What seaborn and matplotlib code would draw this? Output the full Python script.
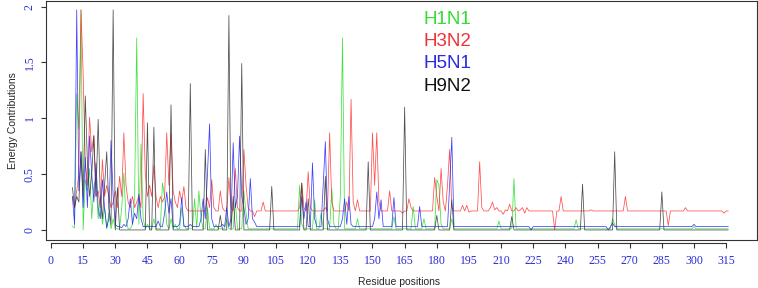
# %%
# ===== Loading Libraries =====
import pandas as pd
import numpy as np
import matplotlib.pyplot as plt
import seaborn as sns

sns.set_style('white')
plt.rcParams['font.family'] = ['Liberation Sans', 'DejaVu Sans']


# %%
# ===== Data =====
residues = list(range(10, 317))
subtypes = ['H1N1', 'H3N2', 'H5N1', 'H9N2']
line_colors = ['#22dd22', '#ff3030', '#2020ff', '#303030']
x_ticks = list(range(0, 316, 15))
y_ticks = [0, 0.5, 1, 1.5, 2]
y_tick_labels = ['0', '0.5', '1', '1.5', '2']

# flat level each curve sits on away from its peaks
h1n1_base = 0.01
h3n2_base = 0.17
h5n1_base = 0.03
h9n2_base = 0.0

# residue -> energy where the curve leaves its base level
h1n1_peaks = {
    10: 0.03, 11: 0.02, 12: 1.22, 13: 0.9, 14: 1.97, 15: 0.0, 16: 0.45, 17: 0.35,
    18: 0.55, 19: 0.1, 20: 0.4, 21: 0.45, 22: 0.1, 23: 0.3, 24: 0.05, 25: 0.2,
    27: 0.15, 29: 0.1, 33: 0.2, 34: 0.51, 35: 0.1, 38: 0.05, 39: 0.3, 40: 1.72,
    41: 0.05, 42: 0.77, 43: 0.1, 45: 0.05, 48: 0.1, 52: 0.42, 53: 0.3, 54: 0.05,
    56: 0.1, 58: 0.05, 61: 0.2, 62: 0.05, 67: 0.28, 68: 0.02, 69: 0.35, 70: 0.1,
    73: 0.2, 77: 0.05, 82: 0.1, 86: 0.25, 90: 0.35, 91: 0.15,
    116: 0.4, 117: 0.05, 123: 0.27, 126: 0.15, 131: 0.37, 132: 0.05, 135: 0.3,
    136: 1.72, 143: 0.1, 160: 0.12, 169: 0.21, 174: 0.1, 180: 0.45, 181: 0.4,
    182: 0.05, 187: 0.1, 209: 0.08, 216: 0.46, 245: 0.09, 262: 0.1, 263: 0.05,
    300: 0.03,
}
h3n2_peaks = {
    10: 0.3, 11: 0.2, 12: 0.35, 13: 0.5, 14: 1.97, 15: 1.4, 16: 0.6, 17: 0.4,
    18: 1.01, 19: 0.7, 20: 0.85, 21: 0.3, 22: 0.35, 23: 0.2, 24: 0.63, 25: 0.3,
    26: 0.4, 27: 0.3, 28: 0.2, 29: 0.25, 30: 0.35, 31: 0.2, 32: 0.48, 33: 0.3,
    34: 0.87, 35: 0.4, 36: 0.25, 37: 0.2, 38: 0.3, 39: 0.2, 40: 0.25, 41: 0.3,
    42: 0.2, 43: 1.22, 44: 0.5, 45: 0.3, 46: 0.4, 47: 0.3, 48: 0.58, 49: 0.3,
    50: 0.2, 51: 0.3, 52: 0.25, 53: 0.3, 54: 0.87, 55: 0.4, 56: 0.87, 57: 0.35,
    58: 0.25, 59: 0.2, 60: 0.35, 61: 0.25, 62: 0.39, 63: 0.2, 73: 0.29, 74: 0.2,
    75: 0.45, 76: 0.2, 79: 0.35, 80: 0.2, 83: 0.47, 84: 0.2, 86: 0.55, 87: 0.2,
    90: 0.72, 91: 0.4, 92: 0.2, 95: 0.12, 99: 0.25,
    116: 0.2, 117: 0.42, 118: 0.2, 120: 0.52, 121: 0.2, 128: 0.2, 130: 0.87,
    131: 0.25, 138: 0.25, 140: 1.17, 141: 0.25, 143: 0.27, 150: 0.87, 151: 0.4,
    152: 0.87, 153: 0.25, 158: 0.35, 164: 0.15, 167: 0.28, 168: 0.2, 179: 0.47,
    180: 0.3, 182: 0.55, 183: 0.25, 185: 0.4, 186: 0.72, 187: 0.2, 192: 0.22,
    194: 0.22, 195: 0.16, 200: 0.61, 201: 0.2, 205: 0.2, 206: 0.25, 207: 0.18,
    208: 0.2, 211: 0.14, 212: 0.18, 214: 0.23, 217: 0.2, 219: 0.18, 220: 0.2,
    221: 0.15, 222: 0.2, 235: 0.0, 238: 0.3, 252: 0.18, 268: 0.3, 288: 0.04,
    296: 0.2, 314: 0.15,
}
h5n1_peaks = {
    10: 0.3, 11: 0.05, 12: 1.97, 13: 0.35, 14: 0.7, 15: 0.2, 16: 0.65, 17: 0.2,
    18: 0.84, 19: 0.5, 20: 0.25, 21: 0.6, 22: 0.2, 23: 0.1, 24: 0.45, 25: 0.2,
    26: 0.02, 27: 0.1, 28: 0.8, 29: 0.3, 30: 0.05, 33: 0.02, 34: 0.05, 36: 0.1,
    37: 0.28, 38: 0.05, 39: 0.15, 40: 0.1, 41: 0.32, 42: 0.1, 50: 0.08, 53: 0.15,
    54: 0.34, 55: 0.15, 56: 0.28, 60: 0.05, 61: 0.29, 65: 0.05, 70: 0.1, 71: 0.28,
    72: 0.1, 73: 0.5, 74: 0.95, 75: 0.1, 80: 0.05, 82: 0.2, 84: 0.1, 85: 0.78,
    86: 0.2, 87: 0.3, 88: 0.84, 89: 0.3, 90: 0.2, 91: 0.05, 92: 0.1, 93: 0.46,
    94: 0.1, 95: 0.07,
    117: 0.3, 118: 0.1, 119: 0.25, 122: 0.6, 123: 0.1, 127: 0.4, 128: 0.79,
    129: 0.1, 136: 0.1, 137: 0.28, 138: 0.05, 139: 0.3, 140: 0.05, 151: 0.1,
    152: 0.34, 153: 0.1, 154: 0.27, 160: 0.29, 172: 0.21, 186: 0.4, 187: 0.83,
    224: 0.0, 260: 0.0, 262: 0.06, 300: 0.05,
}
h9n2_peaks = {
    10: 0.38, 11: 0.2, 12: 0.3, 13: 0.25, 14: 0.7, 15: 0.3, 16: 1.2, 17: 0.6,
    18: 0.3, 19: 0.5, 20: 0.84, 21: 0.3, 22: 0.99, 23: 0.3, 24: 0.1, 25: 0.4,
    26: 0.7, 27: 0.2, 28: 0.05, 29: 1.97, 31: 0.38, 45: 0.96, 48: 0.92, 56: 1.12,
    65: 1.31, 72: 0.72, 79: 0.13, 83: 1.92, 85: 0.3, 89: 1.49, 103: 0.39,
    117: 0.42, 120: 0.28, 128: 0.48, 148: 0.61, 165: 1.1, 180: 0.13, 187: 0.27,
    215: 0.12, 248: 0.41, 263: 0.7, 285: 0.34,
}


# %%
# ===== Building the long table =====
def build_series(name, base, peaks):
    energy = pd.Series(base, index=residues, dtype=float)
    for pos, val in peaks.items():
        energy[pos] = val
    return pd.DataFrame({'residue': residues, 'energy': energy.values, 'subtype': name})

energy_df = pd.concat([
    build_series('H1N1', h1n1_base, h1n1_peaks),
    build_series('H3N2', h3n2_base, h3n2_peaks),
    build_series('H5N1', h5n1_base, h5n1_peaks),
    build_series('H9N2', h9n2_base, h9n2_peaks),
], ignore_index=True)


# %%
# ===== Plotting =====
fig = plt.figure(figsize=(7.58, 2.88), dpi=100)
ax = fig.add_axes([46 / 758, 48 / 288, 711 / 758, 239 / 288])

sns.lineplot(data=energy_df, x='residue', y='energy', hue='subtype',
             hue_order=subtypes, palette=line_colors, estimator=None,
             linewidth=0.55, alpha=0.85, legend=False, ax=ax)

ax.set_xlim(-2.33, 329.4)
ax.set_ylim(-0.09, 2.05)

# R-style axes: boxed panel, x axis drawn a little below the box
for side in ['top', 'right', 'left', 'bottom']:
    ax.spines[side].set_color('#333333')
    ax.spines[side].set_linewidth(0.8)
ax.spines['bottom'].set_position(('outward', 2.2))
ax.spines['bottom'].set_bounds(0, 315)
ax.plot([0, 1], [0, 0], transform=ax.transAxes, color='#333333', lw=0.8, clip_on=False)

ax.set_xticks(x_ticks)
ax.set_xticklabels([str(t) for t in x_ticks])
ax.set_yticks(y_ticks)
ax.set_yticklabels(y_tick_labels, rotation=90, va='center')
ax.tick_params(axis='both', direction='out', length=3.5, width=0.8, color='#333333',
               labelsize=8.5, labelcolor='#2b2bd6', left=True, bottom=True)
ax.tick_params(axis='x', pad=5)
ax.tick_params(axis='y', pad=4)
for lab in ax.get_xticklabels() + ax.get_yticklabels():
    lab.set_family(['Liberation Serif', 'DejaVu Serif'])

ax.set_xlabel('')
ax.set_ylabel('')
fig.text(399 / 758, 1 - 282 / 288, 'Residue positions', ha='center', va='center', fontsize=7.5)
fig.text(13 / 758, 1 - 121 / 288, 'Energy Contributions', rotation=90,
         ha='center', va='center', fontsize=7.5)

# legend written as coloured words, as in the original
legend_colors = ['#33dd33', '#ee3333', '#2a2ae0', '#111111']
legend_y = [19, 41.5, 64, 87]
for name, col, ypix in zip(subtypes, legend_colors, legend_y):
    fig.text(423 / 758, 1 - ypix / 288, name, color=col, fontsize=13.5, ha='left', va='center')

fig.savefig('out.png', dpi=100)
